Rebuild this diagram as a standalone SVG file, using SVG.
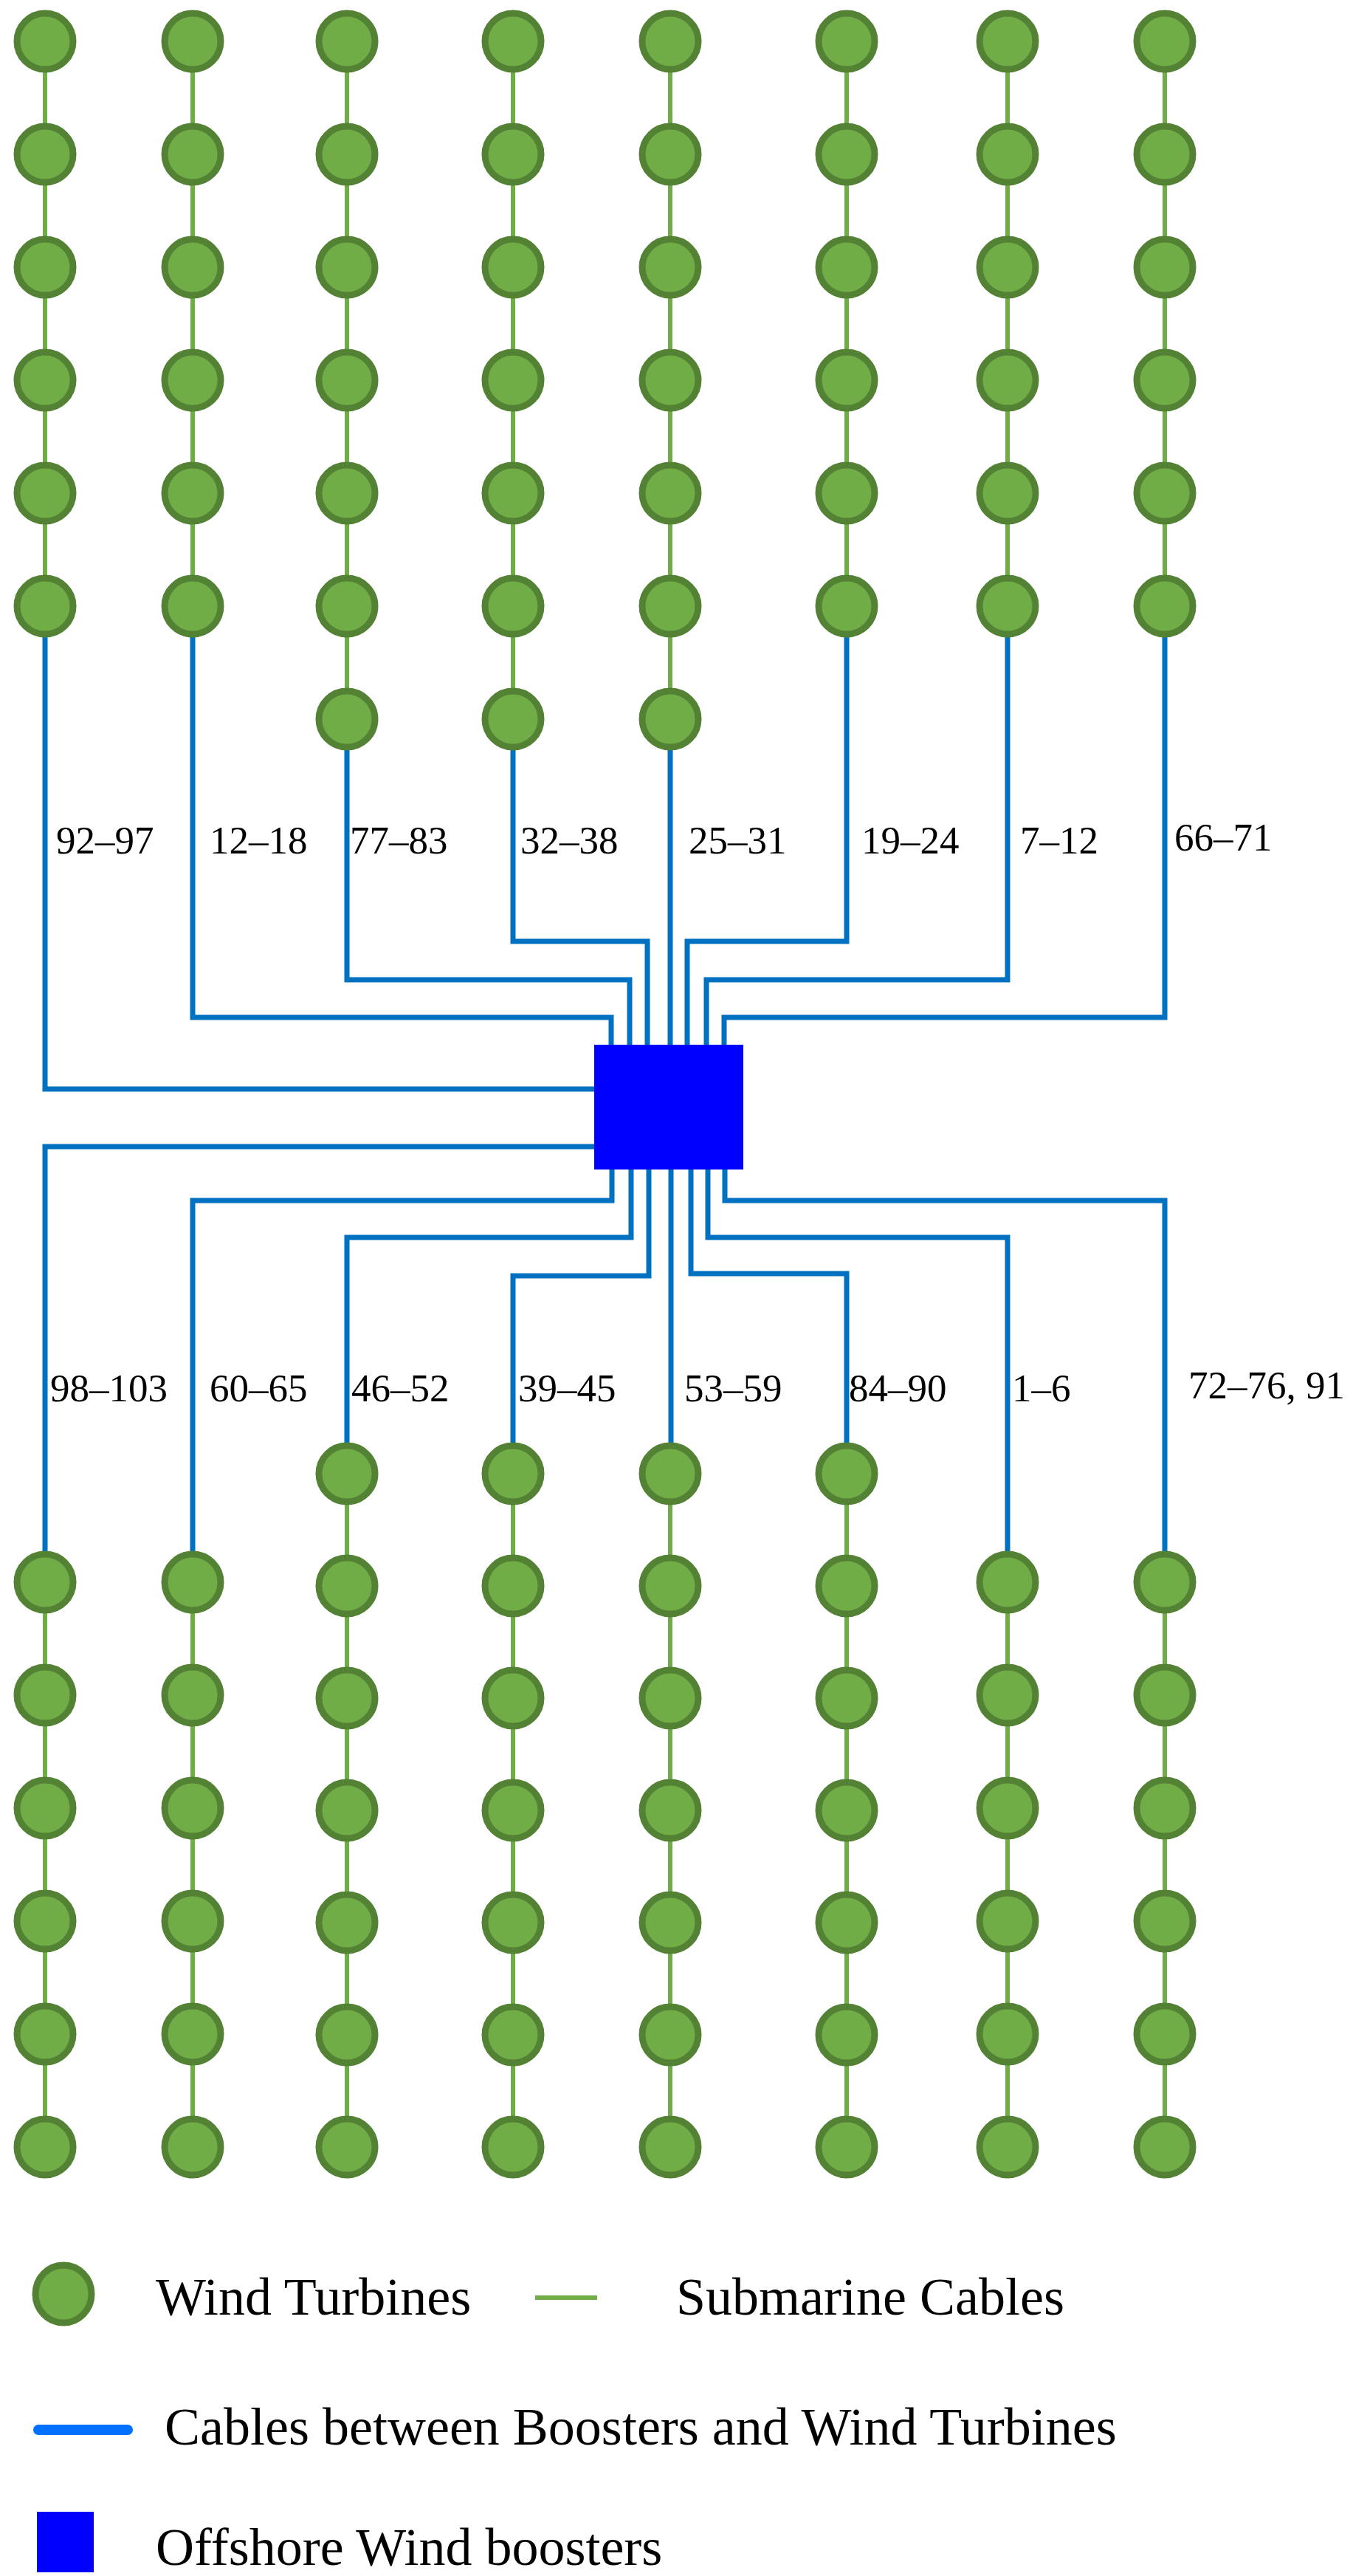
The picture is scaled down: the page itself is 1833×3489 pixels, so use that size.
<svg xmlns="http://www.w3.org/2000/svg" width="1833" height="3489" viewBox="0 0 1833 3489">
<style>
.t{fill:#70AD47;stroke:#548235;stroke-width:9}
.g{stroke:#70AD47;stroke-width:6;fill:none}
.b{stroke:#0070C0;stroke-width:7;fill:none}
.lb{font-family:"Liberation Serif",serif;font-size:53px;fill:#000}
.lg{font-family:"Liberation Serif",serif;font-size:72px;fill:#000}
</style>
<rect width="1833" height="3489" fill="#fff"/>
<g id="connectors">
<path class="g" d="M61 56V821M261 56V821M470 56V974M695 56V974M908 56V974M1147 56V821M1365 56V821M1578 56V821"/>
<path class="g" d="M61 2143V2908M261 2143V2908M470 1996V2908M695 1996V2908M908 1996V2908M1147 1996V2908M1365 2143V2908M1578 2143V2908"/>
<path class="b" d="M61 821V1475H805M261 821V1378H828V1415M470 974V1327H853V1415M695 974V1275H877V1415M908 974V1415M1147 821V1275H931V1415M1365 821V1327H957V1415M1578 821V1378H981V1415"/>
<path class="b" d="M805 1553H61V2143M829 1584V1626H261V2143M855 1584V1676H470V1996M879 1584V1728H695V1996M909 1584V1996M936 1584V1725H1147V1996M959 1584V1676H1365V2143M982 1584V1626H1578V2143"/>
</g>
<g id="booster"><rect x="805" y="1415" width="202" height="169" fill="#0000FF"/></g>
<g id="top-turbines">
<g id="t1"><circle class="t" cx="61" cy="56" r="38"/><circle class="t" cx="61" cy="209" r="38"/><circle class="t" cx="61" cy="362" r="38"/><circle class="t" cx="61" cy="515" r="38"/><circle class="t" cx="61" cy="668" r="38"/><circle class="t" cx="61" cy="821" r="38"/></g>
<g id="t2"><circle class="t" cx="261" cy="56" r="38"/><circle class="t" cx="261" cy="209" r="38"/><circle class="t" cx="261" cy="362" r="38"/><circle class="t" cx="261" cy="515" r="38"/><circle class="t" cx="261" cy="668" r="38"/><circle class="t" cx="261" cy="821" r="38"/></g>
<g id="t3"><circle class="t" cx="470" cy="56" r="38"/><circle class="t" cx="470" cy="209" r="38"/><circle class="t" cx="470" cy="362" r="38"/><circle class="t" cx="470" cy="515" r="38"/><circle class="t" cx="470" cy="668" r="38"/><circle class="t" cx="470" cy="821" r="38"/><circle class="t" cx="470" cy="974" r="38"/></g>
<g id="t4"><circle class="t" cx="695" cy="56" r="38"/><circle class="t" cx="695" cy="209" r="38"/><circle class="t" cx="695" cy="362" r="38"/><circle class="t" cx="695" cy="515" r="38"/><circle class="t" cx="695" cy="668" r="38"/><circle class="t" cx="695" cy="821" r="38"/><circle class="t" cx="695" cy="974" r="38"/></g>
<g id="t5"><circle class="t" cx="908" cy="56" r="38"/><circle class="t" cx="908" cy="209" r="38"/><circle class="t" cx="908" cy="362" r="38"/><circle class="t" cx="908" cy="515" r="38"/><circle class="t" cx="908" cy="668" r="38"/><circle class="t" cx="908" cy="821" r="38"/><circle class="t" cx="908" cy="974" r="38"/></g>
<g id="t6"><circle class="t" cx="1147" cy="56" r="38"/><circle class="t" cx="1147" cy="209" r="38"/><circle class="t" cx="1147" cy="362" r="38"/><circle class="t" cx="1147" cy="515" r="38"/><circle class="t" cx="1147" cy="668" r="38"/><circle class="t" cx="1147" cy="821" r="38"/></g>
<g id="t7"><circle class="t" cx="1365" cy="56" r="38"/><circle class="t" cx="1365" cy="209" r="38"/><circle class="t" cx="1365" cy="362" r="38"/><circle class="t" cx="1365" cy="515" r="38"/><circle class="t" cx="1365" cy="668" r="38"/><circle class="t" cx="1365" cy="821" r="38"/></g>
<g id="t8"><circle class="t" cx="1578" cy="56" r="38"/><circle class="t" cx="1578" cy="209" r="38"/><circle class="t" cx="1578" cy="362" r="38"/><circle class="t" cx="1578" cy="515" r="38"/><circle class="t" cx="1578" cy="668" r="38"/><circle class="t" cx="1578" cy="821" r="38"/></g>
</g>
<g id="bottom-turbines">
<g id="b1"><circle class="t" cx="61" cy="2143" r="38"/><circle class="t" cx="61" cy="2296" r="38"/><circle class="t" cx="61" cy="2449" r="38"/><circle class="t" cx="61" cy="2602" r="38"/><circle class="t" cx="61" cy="2755" r="38"/><circle class="t" cx="61" cy="2908" r="38"/></g>
<g id="b2"><circle class="t" cx="261" cy="2143" r="38"/><circle class="t" cx="261" cy="2296" r="38"/><circle class="t" cx="261" cy="2449" r="38"/><circle class="t" cx="261" cy="2602" r="38"/><circle class="t" cx="261" cy="2755" r="38"/><circle class="t" cx="261" cy="2908" r="38"/></g>
<g id="b3"><circle class="t" cx="470" cy="1996" r="38"/><circle class="t" cx="470" cy="2148" r="38"/><circle class="t" cx="470" cy="2300" r="38"/><circle class="t" cx="470" cy="2452" r="38"/><circle class="t" cx="470" cy="2604" r="38"/><circle class="t" cx="470" cy="2756" r="38"/><circle class="t" cx="470" cy="2908" r="38"/></g>
<g id="b4"><circle class="t" cx="695" cy="1996" r="38"/><circle class="t" cx="695" cy="2148" r="38"/><circle class="t" cx="695" cy="2300" r="38"/><circle class="t" cx="695" cy="2452" r="38"/><circle class="t" cx="695" cy="2604" r="38"/><circle class="t" cx="695" cy="2756" r="38"/><circle class="t" cx="695" cy="2908" r="38"/></g>
<g id="b5"><circle class="t" cx="908" cy="1996" r="38"/><circle class="t" cx="908" cy="2148" r="38"/><circle class="t" cx="908" cy="2300" r="38"/><circle class="t" cx="908" cy="2452" r="38"/><circle class="t" cx="908" cy="2604" r="38"/><circle class="t" cx="908" cy="2756" r="38"/><circle class="t" cx="908" cy="2908" r="38"/></g>
<g id="b6"><circle class="t" cx="1147" cy="1996" r="38"/><circle class="t" cx="1147" cy="2148" r="38"/><circle class="t" cx="1147" cy="2300" r="38"/><circle class="t" cx="1147" cy="2452" r="38"/><circle class="t" cx="1147" cy="2604" r="38"/><circle class="t" cx="1147" cy="2756" r="38"/><circle class="t" cx="1147" cy="2908" r="38"/></g>
<g id="b7"><circle class="t" cx="1365" cy="2143" r="38"/><circle class="t" cx="1365" cy="2296" r="38"/><circle class="t" cx="1365" cy="2449" r="38"/><circle class="t" cx="1365" cy="2602" r="38"/><circle class="t" cx="1365" cy="2755" r="38"/><circle class="t" cx="1365" cy="2908" r="38"/></g>
<g id="b8"><circle class="t" cx="1578" cy="2143" r="38"/><circle class="t" cx="1578" cy="2296" r="38"/><circle class="t" cx="1578" cy="2449" r="38"/><circle class="t" cx="1578" cy="2602" r="38"/><circle class="t" cx="1578" cy="2755" r="38"/><circle class="t" cx="1578" cy="2908" r="38"/></g>
</g>
<g id="labels">
<text class="lb" x="76" y="1156">92–97</text>
<text class="lb" x="284" y="1156">12–18</text>
<text class="lb" x="474" y="1156">77–83</text>
<text class="lb" x="705" y="1156">32–38</text>
<text class="lb" x="933" y="1156">25–31</text>
<text class="lb" x="1167" y="1156">19–24</text>
<text class="lb" x="1382" y="1156">7–12</text>
<text class="lb" x="1591" y="1152">66–71</text>
<text class="lb" x="68" y="1898">98–103</text>
<text class="lb" x="284" y="1898">60–65</text>
<text class="lb" x="476" y="1898">46–52</text>
<text class="lb" x="702" y="1898">39–45</text>
<text class="lb" x="927" y="1898">53–59</text>
<text class="lb" x="1150" y="1898">84–90</text>
<text class="lb" x="1371" y="1898">1–6</text>
<text class="lb" x="1610" y="1894">72–76, 91</text>
</g>
<g id="legend">
<g id="legend-turbine"><ellipse class="t" cx="86" cy="3107" rx="38" ry="39"/><text class="lg" x="211" y="3135">Wind Turbines</text></g>
<g id="legend-submarine"><line class="g" x1="725" y1="3112" x2="809" y2="3112"/><text class="lg" x="916" y="3135">Submarine Cables</text></g>
<g id="legend-cable"><line x1="52" y1="3291" x2="173" y2="3291" stroke="#0070FF" stroke-width="14" stroke-linecap="round"/><text class="lg" x="223" y="3311">Cables between Boosters and Wind Turbines</text></g>
<g id="legend-booster"><rect x="50" y="3402" width="77" height="82" fill="#0000FF"/><text class="lg" x="211" y="3474">Offshore Wind boosters</text></g>
</g>
</svg>
